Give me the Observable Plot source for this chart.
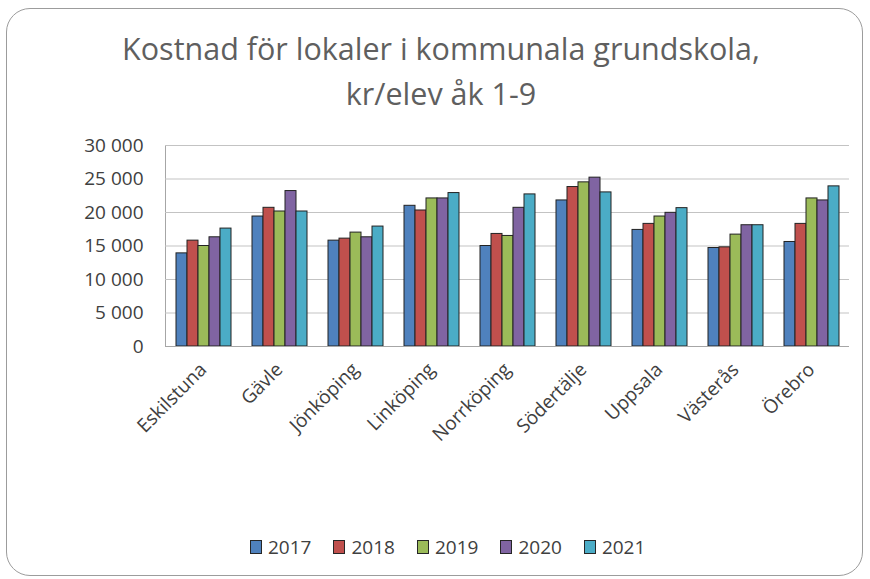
<!DOCTYPE html>
<html><head><meta charset="utf-8">
<script src="https://cdn.jsdelivr.net/npm/d3@7"></script>
<script src="https://cdn.jsdelivr.net/npm/@observablehq/plot@0.6"></script>
<style>
body{margin:0;background:#fff;font-family:"Open Sans",sans-serif;width:870px;height:579px;overflow:hidden;}
#frame{position:absolute;left:6px;top:8px;width:857px;height:568px;border:1px solid #9c9c9c;border-radius:24px;box-sizing:border-box;}
#title{position:absolute;left:0;top:26px;width:882px;text-align:center;font-size:30.5px;line-height:45px;color:#5f5f5f;}
#chart{position:absolute;left:0;top:125px;}
#chart svg text{fill:#404040;}
#legend{position:absolute;top:534px;left:250px;display:flex;align-items:center;font-size:19px;color:#404040;line-height:26px;}
.item{display:flex;align-items:center;margin-right:22px;}
.sw{width:12px;height:14px;box-sizing:border-box;border:1px solid #262626;margin-right:6px;}
</style></head>
<body>
<div id="frame"></div>
<div id="title">Kostnad för lokaler i kommunala grundskola,<br>kr/elev åk 1-9</div>
<div id="chart"></div>
<div id="legend"></div>
<script>
const cities = ["Eskilstuna","Gävle","Jönköping","Linköping","Norrköping","Södertälje","Uppsala","Västerås","Örebro"];
const years = ["2017","2018","2019","2020","2021"];
const colors = ["#4f81bd","#c0504d","#9bbb59","#8064a2","#4bacc6"];
const v2017 = [13900, 19400, 15800, 21000, 15000, 21800, 17400, 14700, 15600];
const v2018 = [15800, 20700, 16100, 20300, 16800, 23800, 18300, 14800, 18300];
const v2019 = [15000, 20150, 17000, 22100, 16500, 24500, 19400, 16700, 22100];
const v2020 = [16300, 23200, 16300, 22100, 20700, 25200, 19950, 18100, 21800];
const v2021 = [17600, 20150, 17900, 22900, 22700, 23000, 20650, 18100, 23900];
const yTicks = [0, 5000, 10000, 15000, 20000, 25000, 30000];

const series = [v2017, v2018, v2019, v2020, v2021];
const rows = [];
cities.forEach((c, i) => years.forEach((yr, j) => rows.push({city: c, year: yr, value: series[j][i]})));
const fmt = d3.formatLocale({thousands: "\u00a0", grouping: [3], decimal: ","}).format(",d");

const chart = Plot.plot({
  width: 870, height: 340,
  marginTop: 20, marginBottom: 119, marginLeft: 162, marginRight: 18,
  style: {fontFamily: "Open Sans", fontSize: "19px", color: "#a6a6a6", background: "transparent"},
  facet: {data: rows, x: "city"},
  fx: {domain: cities, padding: 0, label: null, axis: "bottom", tickRotate: -45, tickSize: 0, tickPadding: 20},
  x: {domain: years, axis: null, paddingInner: 0, paddingOuter: 0.79},
  y: {domain: [0, 30000], ticks: yTicks, tickFormat: fmt, tickSize: 0, tickPadding: 22, label: null, line: true},
  color: {domain: years, range: colors},
  marks: [
    Plot.ruleY(yTicks.filter(v => v > 0), {stroke: "#c3c3c3"}),
    Plot.barY(rows, {x: "year", y: "value", fill: "year", stroke: "#222", strokeWidth: 1}),
    Plot.ruleY([0], {stroke: "#a6a6a6"})
  ]
});
document.getElementById("chart").appendChild(chart);

const lg = document.getElementById("legend");
years.forEach((yr, j) => {
  const it = document.createElement("div"); it.className = "item";
  const sw = document.createElement("div"); sw.className = "sw"; sw.style.background = colors[j];
  const tx = document.createElement("span"); tx.textContent = yr;
  it.appendChild(sw); it.appendChild(tx); lg.appendChild(it);
});
</script>
</body></html>
